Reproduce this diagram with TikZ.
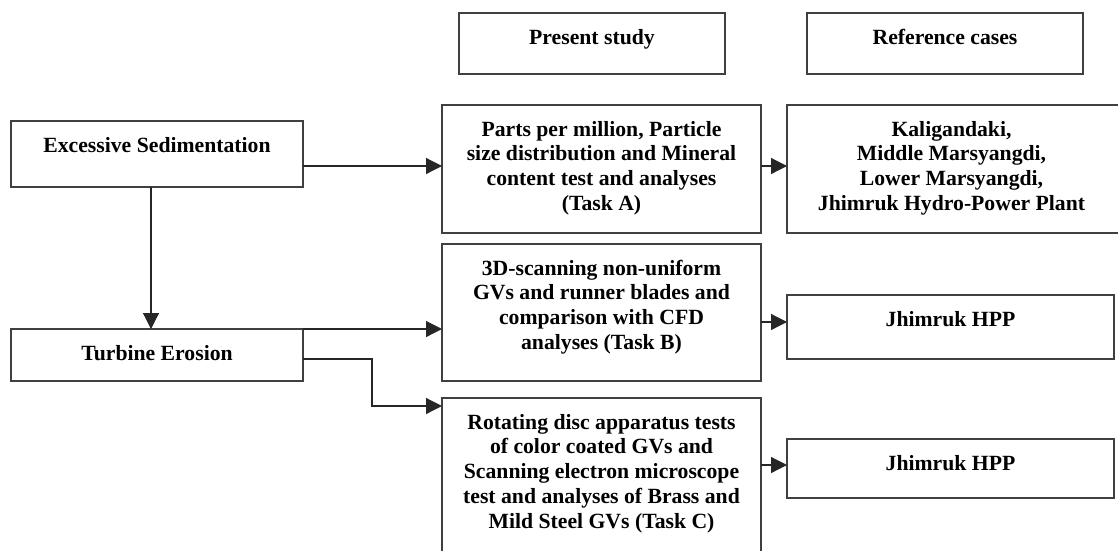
\documentclass[tikz,border=0pt]{standalone}
\usepackage{fontspec}
\setmainfont{Liberation Serif}
\usetikzlibrary{arrows.meta}
\begin{document}
\begin{tikzpicture}[x=1pt,y=-1pt,
  box/.style={draw=black!75, line width=1.3pt, inner sep=0pt, outer sep=0pt, fill=white},
  txt/.style={anchor=north, inner sep=0pt, align=center, font=\bfseries\fontsize{21.7}{24.7}\selectfont},
  arr/.style={draw=black!85, line width=1.2pt, -{Triangle[length=16pt,width=16pt]}}]
\useasboundingbox (0,0) rectangle (1118,550);
% boxes
\node[box, minimum width=266pt, minimum height=61pt] (present) at (592,43.5) {};
\node[box, minimum width=276pt, minimum height=61pt] (refcases) at (945,43.5) {};
\node[box, minimum width=292pt, minimum height=66pt] (es) at (157,154) {};
\node[box, minimum width=292pt, minimum height=52pt] (te) at (157,355) {};
\node[box, minimum width=319pt, minimum height=128pt] (A) at (601.5,169) {};
\node[box, minimum width=333pt, minimum height=128pt] (RA) at (953.5,169) {};
\node[box, minimum width=319pt, minimum height=137pt] (B) at (601.5,312.5) {};
\node[box, minimum width=327pt, minimum height=64pt] (RB) at (950.5,327) {};
\node[box, minimum width=319pt, minimum height=160pt] (C) at (601.5,478) {};
\node[box, minimum width=327pt, minimum height=59pt] (RC) at (950.5,468.5) {};
% texts
\node[txt] (presentt) at ([yshift=-13.7pt]present.north) {\strut Present study};
\node[txt] (refcasest) at ([yshift=-13.7pt]refcases.north) {\strut Reference cases};
\node[txt] (est) at ([yshift=-13.7pt]es.north) {\strut Excessive Sedimentation};
\node[txt] (tet) at ([yshift=-13.7pt]te.north) {\strut Turbine Erosion};
\node[txt] (At) at ([yshift=-13.7pt]A.north) {\strut Parts per million, Particle\\size distribution and Mineral\\content test and analyses\\(Task A)};
\node[txt] (RAt) at ([yshift=-13.7pt,xshift=-2pt]RA.north) {\strut Kaligandaki,\\Middle Marsyangdi,\\Lower Marsyangdi,\\Jhimruk Hydro-Power Plant};
\node[txt] (Bt) at ([yshift=-13.7pt]B.north) {\strut 3D-scanning non-uniform\\GVs and runner blades and\\comparison with CFD\\analyses (Task B)};
\node[txt] (RBt) at ([yshift=-13.7pt]RB.north) {\strut Jhimruk HPP};
\node[txt] (Ct) at ([yshift=-13.7pt]C.north) {\strut Rotating disc apparatus tests\\of color coated GVs and\\Scanning electron microscope\\test and analyses of Brass and\\Mild Steel GVs (Task C)};
\node[txt] (RCt) at ([yshift=-13.7pt]RC.north) {\strut Jhimruk HPP};
% connectors
\draw[arr] ([yshift=3pt]es.east |- A.west) -- ([yshift=3pt]A.west);
\draw[arr] ([xshift=-6pt]es.south) -- ([xshift=-6pt]te.north);
\draw[arr] (te.north east) -- (te.north east -| B.west);
\coordinate (cin) at ([yshift=-8pt]C.north west);
\draw[arr] ([yshift=-4pt]te.east) -| ([xshift=-70pt]cin) -- (cin);
\draw[arr] ([yshift=3pt]A.east) -- ([yshift=3pt]A.east -| RA.west);
\draw[arr] ([yshift=5pt]B.east |- RB.west) -- ([yshift=5pt]RB.west);
\draw[arr] ([yshift=3.5pt]C.east |- RC.west) -- ([yshift=3.5pt]RC.west);
\end{tikzpicture}
\end{document}
